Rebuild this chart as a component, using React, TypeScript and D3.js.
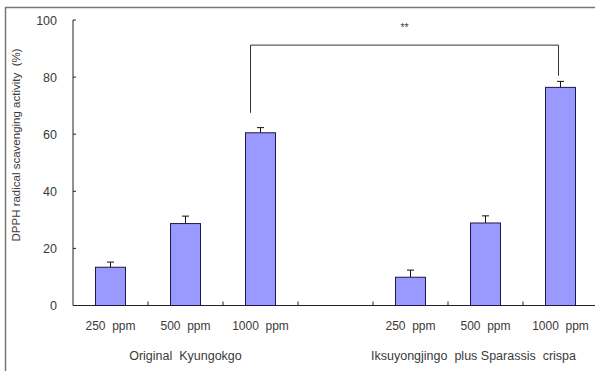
import * as d3 from "d3";

// doses per bar, "" marks the empty gap slot between the two groups
const doses = ["250  ppm", "500  ppm", "1000  ppm", "", "250  ppm", "500  ppm", "1000  ppm"];
const values = [13.4, 28.7, 60.5, null, 9.9, 28.9, 76.4];
const errors = [1.8, 2.6, 1.8, null, 2.5, 2.5, 2.1];
const groups = ["Original  Kyungokgo", "Iksuyongjingo  plus Sparassis  crispa"];
const groupSlots = [[0, 1, 2], [4, 5, 6]];
const yTicks = [0, 20, 40, 60, 80, 100];
// significance bracket: level and the lower ends of both legs (in % units)
const bracket = { from: 2, to: 6, level: 91.2, leftEnd: 67.5, rightEnd: 80.5, label: "**" };

const W = 595;
const H = 371;
const font = "'Liberation Sans', Arial, sans-serif";

export default function App() {
  const keys = doses.map((_, i) => String(i));
  const x = d3
    .scaleBand<string>()
    .domain(keys)
    .range([73, 598])
    .paddingInner(0.6)
    .paddingOuter(0.3);
  const y = d3.scaleLinear().domain([0, 100]).range([305.5, 20]);
  const step = x.step();
  const bw = x.bandwidth();
  const cx = (i: number) => (x(keys[i]) ?? 0) + bw / 2;
  const x0 = x.range()[0];

  const bl = cx(bracket.from) - 10;
  const br = cx(bracket.to) - 2;

  return (
    <svg
      width={W}
      height={H}
      style={{ position: "absolute", left: 0, top: 0, background: "#fff" }}
      fontFamily={font}
    >
      {/* frame */}
      <path d={`M5.5,${H + 5} V7.5 H${W + 5}`} fill="none" stroke="#777" strokeWidth={1.5} />

      {/* y axis */}
      <line x1={x0} x2={x0} y1={y(100)} y2={y(0)} stroke="#222" />
      {yTicks.map((t) => (
        <g key={t}>
          <line x1={x0} x2={x0 + 3} y1={y(t)} y2={y(t)} stroke="#222" />
          <text x={57} y={y(t) + 4.5} textAnchor="end" fontSize={12.5} fill="#3a3a3a">
            {t}
          </text>
        </g>
      ))}
      <text
        transform={`translate(20,${145}) rotate(-90)`}
        textAnchor="middle"
        fontSize={11.5}
        fill="#3a3a3a"
        style={{ whiteSpace: "pre" }}
      >
        {"DPPH radical scavenging activity  (%)"}
      </text>

      {/* x axis */}
      <line x1={x0} x2={W} y1={y(0)} y2={y(0)} stroke="#222" />
      {keys.map((_, i) => (
        <line
          key={i}
          x1={x0 + step * (i + 1)}
          x2={x0 + step * (i + 1)}
          y1={y(0)}
          y2={y(0) - 4}
          stroke="#222"
        />
      ))}
      {doses.map((d, i) =>
        d ? (
          <text
            key={i}
            x={cx(i)}
            y={330}
            textAnchor="middle"
            fontSize={12}
            fill="#3a3a3a"
            style={{ whiteSpace: "pre" }}
          >
            {d}
          </text>
        ) : null
      )}
      {groups.map((g, gi) => {
        const s = groupSlots[gi];
        const mid = (cx(s[0]) + cx(s[s.length - 1])) / 2 - (gi === 1 ? 12 : 0);
        return (
          <text
            key={g}
            x={mid}
            y={360}
            textAnchor="middle"
            fontSize={12.5}
            fill="#3a3a3a"
            style={{ whiteSpace: "pre" }}
          >
            {g}
          </text>
        );
      })}

      {/* bars with error bars */}
      {values.map((v, i) => {
        if (v == null) return null;
        const e = errors[i] ?? 0;
        const c = cx(i);
        return (
          <g key={i}>
            <line x1={c} x2={c} y1={y(v)} y2={y(v + e)} stroke="#111" />
            <line x1={c - 3.5} x2={c + 3.5} y1={y(v + e)} y2={y(v + e)} stroke="#111" />
            <rect
              x={x(keys[i])}
              y={y(v)}
              width={bw}
              height={y(0) - y(v)}
              fill="#9999ff"
              stroke="#1a1a4a"
              strokeWidth={1}
            />
          </g>
        );
      })}

      {/* significance bracket */}
      <path
        d={`M${bl},${y(bracket.leftEnd)} V${y(bracket.level)} H${br} V${y(bracket.rightEnd)}`}
        fill="none"
        stroke="#333"
        strokeWidth={1}
      />
      <text x={(bl + br) / 2} y={31} textAnchor="middle" fontSize={10.5} fill="#444">
        {bracket.label}
      </text>
    </svg>
  );
}
